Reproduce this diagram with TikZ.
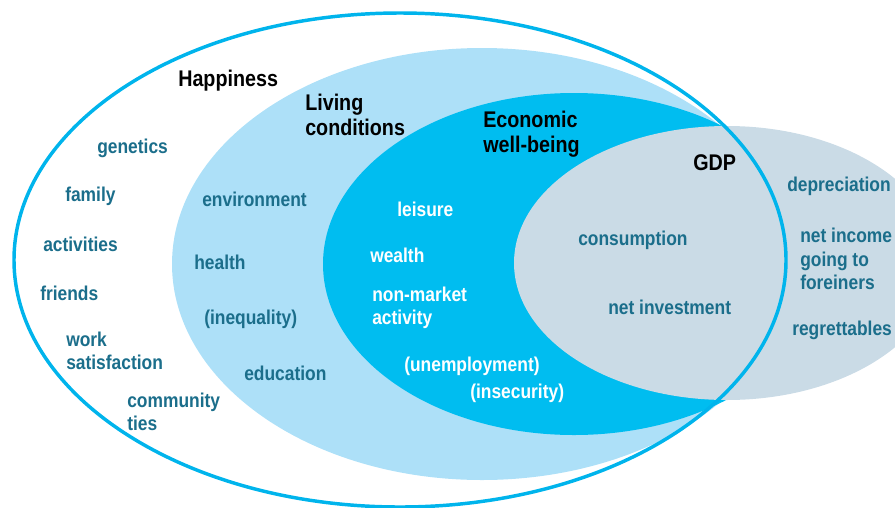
\documentclass[tikz,border=0pt]{standalone}
\usepackage{fontspec}
\setmainfont{Liberation Sans}[FakeStretch=0.87]
\usetikzlibrary{positioning}
\definecolor{outerLine}{HTML}{00B4EC}
\definecolor{livingFill}{HTML}{ADE0F8}
\definecolor{econFill}{HTML}{00BDF0}
\definecolor{gdpFill}{HTML}{CADBE6}
\definecolor{itemText}{HTML}{1B6E8B}
\tikzstyle{title}=[font=\fontsize{17}{19}\selectfont\bfseries, text=black, inner sep=0pt, align=left, anchor=west]
\tikzstyle{item}=[font=\fontsize{15}{17.5}\selectfont\bfseries, text=itemText, inner sep=0pt, align=left, anchor=west]
\tikzstyle{whiteItem}=[item, text=white]

\begin{document}
\begin{tikzpicture}[x=0.75pt, y=-0.75pt]
      \useasboundingbox (0,0) rectangle (895,507);
      \clip (0,0) rectangle (895,507);
      % nested sets
      \fill[livingFill] (482,264) ellipse (310 and 216);
      \fill[econFill] (574,264) ellipse (251 and 171);
      \fill[gdpFill] (727,263) ellipse (213 and 137);
      \draw[outerLine, line width=2.6pt] (400,260) ellipse (386 and 247);

      % titles
      \node[title] (happiness) at (178,81) {Happiness};
      \node[title] (living) at (305,115) {Living\\conditions};
      \node[title] (econ) at (483,134) {Economic\\well-being};
      \node[title] (gdp) at (693,163) {GDP};

      % happiness
      \node[item] (genetics) at (97,148) {genetics};
      \node[item] (family) at (65,196) {family};
      \node[item] (activities) at (43,244) {activities};
      \node[item] (friends) at (40,293) {friends};
      \node[item] (work) at (66,351) {work\\satisfaction};
      \node[item] (community) at (127,412) {community\\ties};

      % living conditions
      \node[item] (environment) at (202,199) {environment};
      \node[item] (health) at (194,262) {health};
      \node[item] (inequality) at (204,319) {(inequality)};
      \node[item] (education) at (244,373) {education};

      % economic well-being
      \node[whiteItem] (leisure) at (397,209) {leisure};
      \node[whiteItem] (wealth) at (370,255) {wealth};
      \node[whiteItem] (nonmarket) at (372,308) {non-market\\activity};
      \node[whiteItem] (unemployment) at (404,366) {(unemployment)};
      \node[whiteItem] (insecurity) at (470,393) {(insecurity)};

      % gdp
      \node[item] (consumption) at (578,240) {consumption};
      \node[item] (investment) at (608,307) {net investment};
      \node[item] (depreciation) at (787,186) {depreciation};
      \node[item] (netincome) at (800,259) {net income\\going to\\foreiners};
      \node[item] (regrettables) at (792,330) {regrettables};
    \end{tikzpicture}
\end{document}
